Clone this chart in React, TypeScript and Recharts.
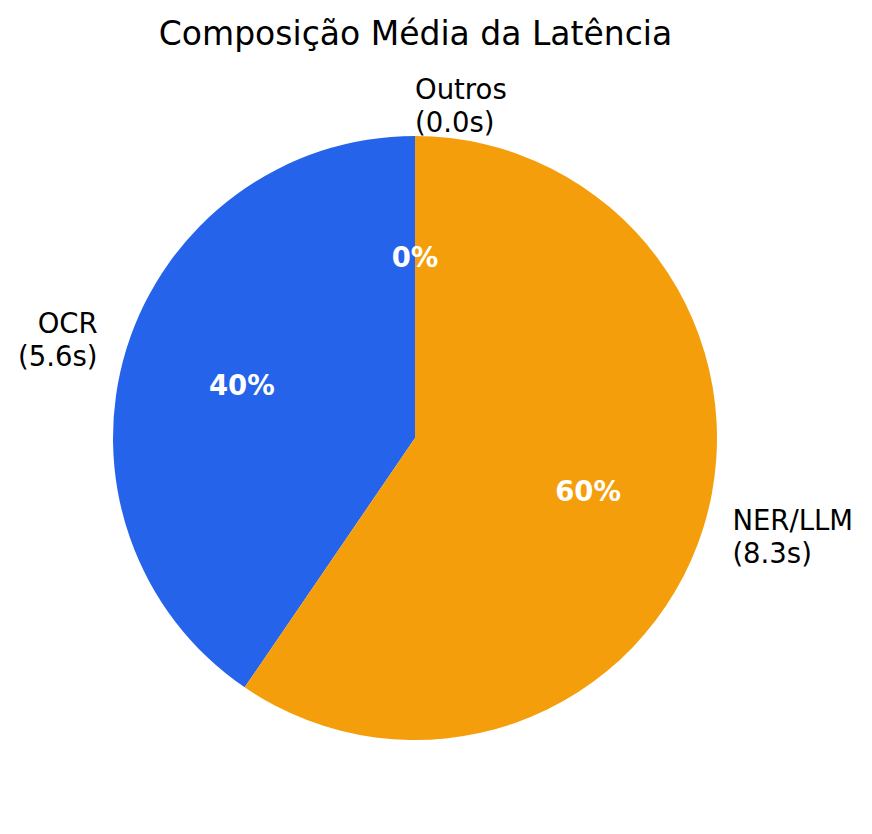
import React from 'react';
import { PieChart, Pie, Cell } from 'recharts';

const labels = ['OCR', 'NER/LLM', 'Outros'];
// average seconds per stage (labels show one decimal)
const seconds = [5.62, 8.27, 0.0];
const COLORS = ['#2563EB', '#F59E0B', '#10B981'];

const data = labels.map((name, i) => ({ name, value: seconds[i] }));

const RADIAN = Math.PI / 180;
const FONT = 'DejaVu Sans';

const renderLabel = ({ cx, cy, midAngle, outerRadius, percent, index }: any) => {
  // inside percentage at 0.6 r, outer name at 1.1 r (matplotlib defaults)
  const cos = Math.cos(-midAngle * RADIAN);
  const sin = Math.sin(-midAngle * RADIAN);
  const ri = outerRadius * 0.6;
  const ro = outerRadius * 1.1;
  const xo = cx + ro * cos;
  const yo = cy + ro * sin;
  const anchor = cos < -1e-9 ? 'end' : 'start';
  return (
    <g>
      <text
        x={cx + ri * cos}
        y={cy + ri * sin}
        fill="white"
        textAnchor="middle"
        dominantBaseline="central"
        fontFamily={FONT}
        fontWeight="bold"
        fontSize={27.5}
      >
        {`${(percent * 100).toFixed(0)}%`}
      </text>
      <text x={xo} y={yo} fill="black" textAnchor={anchor} fontFamily={FONT} fontSize={27.5}>
        <tspan x={xo} dy={-16.5} dominantBaseline="central">{labels[index]}</tspan>
        <tspan x={xo} dy={33} dominantBaseline="central">{`(${seconds[index].toFixed(1)}s)`}</tspan>
      </text>
    </g>
  );
};

export default function App() {
  return (
    <div style={{ position: 'relative', width: 864, height: 826 }}>
      <div
        style={{
          position: 'absolute',
          left: 0,
          top: 7,
          width: 815,
          textAlign: 'center',
          fontFamily: FONT,
          fontSize: 33,
          lineHeight: '38px',
          color: 'black',
        }}
      >
        Composição Média da Latência
      </div>
      <PieChart width={864} height={826} margin={{ top: 0, right: 0, bottom: 0, left: 0 }}>
        <Pie
          data={data}
          dataKey="value"
          nameKey="name"
          cx={407}
          cy={430}
          outerRadius={302}
          startAngle={90}
          endAngle={450}
          stroke="none"
          labelLine={false}
          label={renderLabel}
          isAnimationActive={false}
        >
          {data.map((entry, index) => (
            <Cell key={`cell-${index}`} fill={COLORS[index % COLORS.length]} />
          ))}
        </Pie>
      </PieChart>
    </div>
  );
}
